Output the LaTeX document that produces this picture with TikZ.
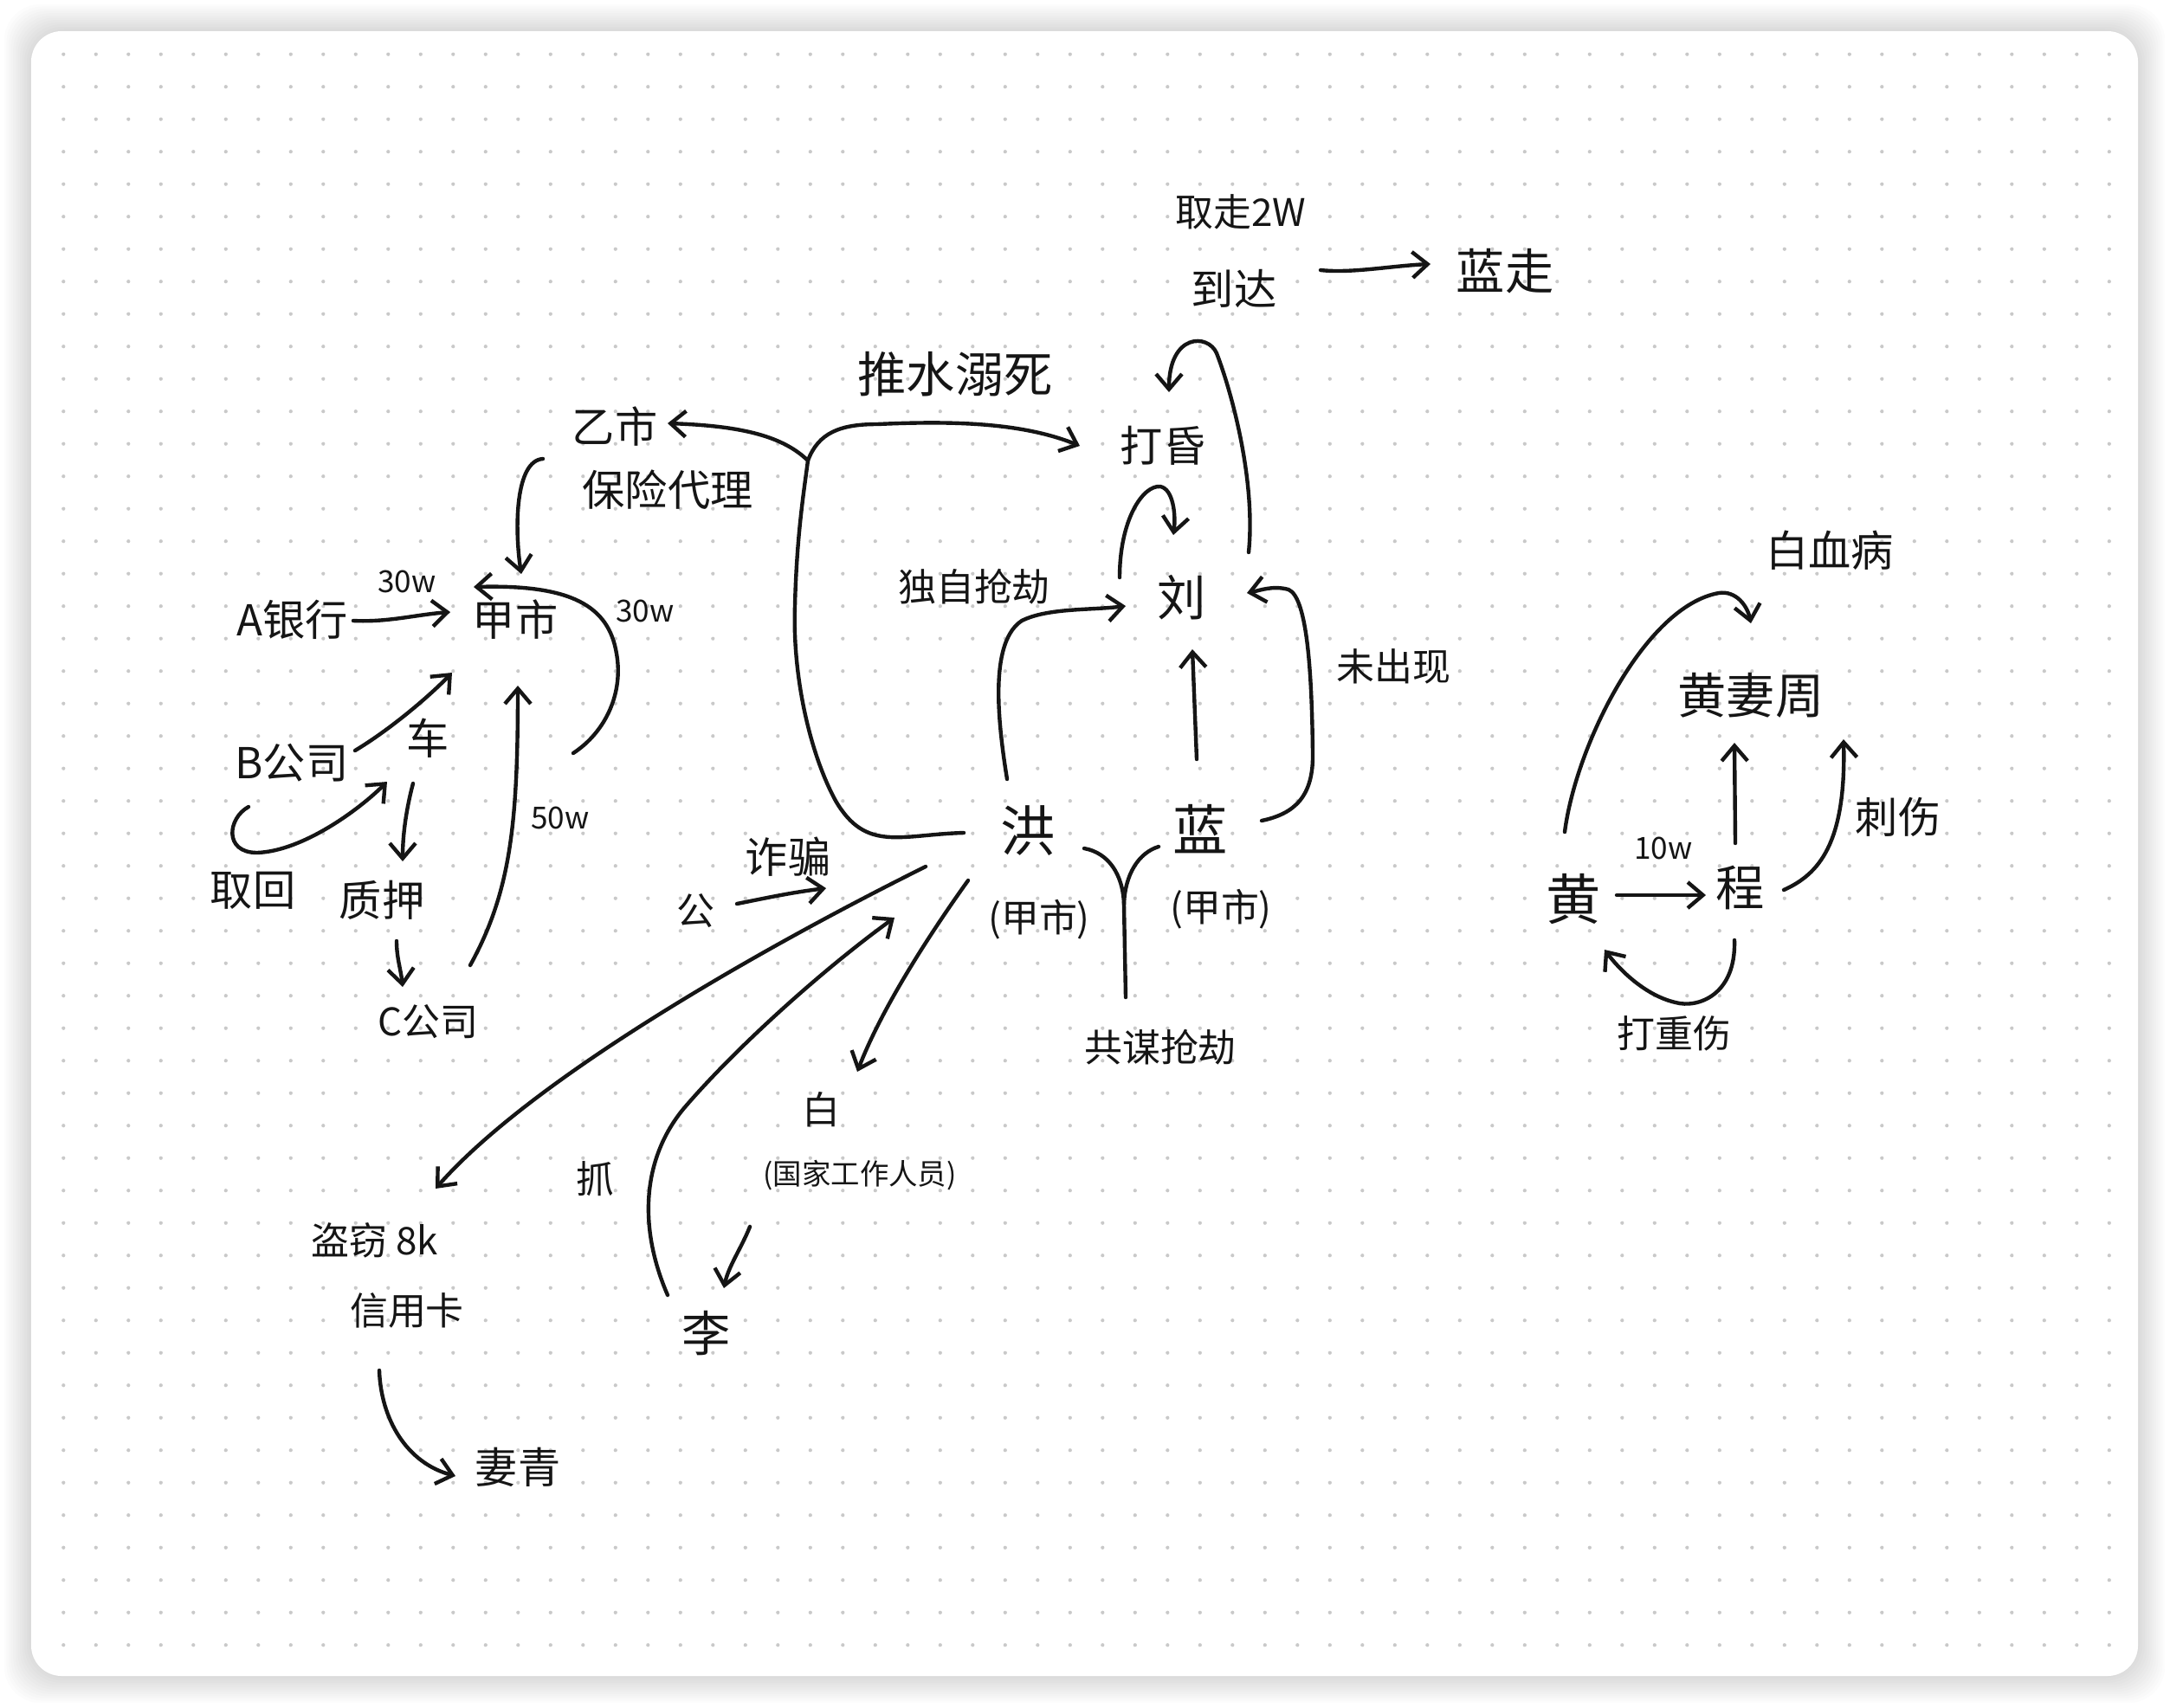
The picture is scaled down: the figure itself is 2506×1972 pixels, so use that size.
\documentclass[tikz,border=0pt]{standalone}
\usepackage{fontspec}
\newfontfamily\cjk{Noto Sans CJK SC}
\usepackage{tikz}
\usetikzlibrary{arrows.meta,calc}
\definecolor{InkBlack}{HTML}{151515}
\definecolor{DotGray}{HTML}{C9C9C9}
\tikzset{
  word/.style={font=\cjk\fontsize{14}{16}\selectfont,inner sep=0pt,text=InkBlack},
  wordXS/.style={word,font=\cjk\fontsize{9.5}{11}\selectfont},
  wordS/.style={word,font=\cjk\fontsize{10}{12}\selectfont},
  wordM/.style={word,font=\cjk\fontsize{12.5}{15}\selectfont},
  wordL/.style={word,font=\cjk\fontsize{16}{19}\selectfont},
  wordXL/.style={word,font=\cjk\fontsize{18}{21}\selectfont},
  inkline/.style={line width=1.25pt,draw=InkBlack,line cap=round,line join=round},
  inkarrow/.style={inkline,-{Straight Barb[length=5pt,width=8.5pt]}},
  griddot/.style={fill=DotGray}
}

\begin{document}
\begin{tikzpicture}[x=0.01cm,y=-0.01cm]
\fill[white] (0,0) rectangle (2506,1972);
\useasboundingbox (0,0) rectangle (2506,1972);
\foreach \k in {1,...,12}
  \fill[black,opacity=0.011,rounded corners=12pt] (36-\k*2.6,36-\k*2.6) rectangle (2469+\k*2.6,1936+\k*2.6);
\fill[white,rounded corners=10pt] (36,36) rectangle (2469,1936);
\foreach \i in {0,...,63}
  \foreach \j in {0,...,49}
    \fill[griddot] (73.3+37.5*\i,62.7+37.5*\j) circle[radius=0.6pt];

\node[wordM] (takeaway) at (1433,245) {取走2W};
\node[word] (daoda) at (1425,333) {到达};
\node[wordL] (lanzou) at (1738,313) {蓝走};
\node[wordL] (tuishui) at (1103,432) {推水溺死};
\node[word] (yishi) at (710,493) {乙市};
\node[word] (baoxian) at (771,566) {保险代理};
\node[word] (dahun) at (1343,515) {打昏};
\node[wordL] (liu) at (1365,690) {刘};
\node[wordM] (duzi) at (1125,678) {独自抢劫};
\node[wordM] (weichu) at (1609,770) {未出现};
\node[word] (abank) at (338,716) {A银行};
\node[wordS] (w30a) at (470,672) {30w};
\node[word] (jia) at (595,716) {甲市};
\node[wordS] (w30b) at (745,706) {30w};
\node[word] (bcomp) at (337,881) {B公司};
\node[word] (che) at (494,853) {车};
\node[word] (quhui) at (292,1029) {取回};
\node[word] (zhiya) at (441,1040) {质押};
\node[wordM] (ccomp) at (494,1180) {C公司};
\node[wordS] (w50) at (647,945) {50w};
\node[wordM] (gong) at (803,1052) {公};
\node[word] (zhapian) at (910,990) {诈骗};
\node[wordXL] (hong) at (1187,960) {洪};
\node[wordM] (hongjia) at (1200,1062) {(甲市)};
\node[wordXL] (lan) at (1386,958) {蓝};
\node[wordM] (lanjia) at (1410,1050) {(甲市)};
\node[wordM] (gongmou) at (1340,1210) {共谋抢劫};
\node[wordM] (bai) at (948,1282) {白};
\node[wordXS] (guojia) at (993,1358) {(国家工作人员)};
\node[wordM] (zhua) at (687,1362) {抓};
\node[wordM] (daoqie) at (433,1433) {盗窃 8k};
\node[wordM] (xinyong) at (470,1514) {信用卡};
\node[wordL] (li) at (816,1540) {李};
\node[word] (qiqing) at (598,1695) {妻青};
\node[word] (baixue) at (2113,636) {白血病};
\node[wordL] (huangqi) at (2022,803) {黄妻周};
\node[word] (cishang) at (2192,944) {刺伤};
\node[wordS] (w10) at (1921,980) {10w};
\node[wordXL] (huang) at (1817,1039) {黄};
\node[wordL] (cheng) at (2010,1025) {程};
\node[wordM] (dazhong) at (1933,1194) {打重伤};

\draw[inkarrow] ($(daoda)+(100,-21)$) .. controls +(35,4) and +(-45,2) .. ($(lanzou)+(-86,-8)$);

\coordinate (fork) at (933,532);
\draw[inkline] ($(hong)+(-74,2)$) .. controls (1040,964) and (1000,985) .. (965,925) .. controls (935,870) and (915,780) .. (918,700) .. controls (920,620) and (928,570) .. (fork);
\draw[inkarrow] (fork) .. controls (905,505) and (860,492) .. ($(yishi)+(61,-4)$);
\draw[inkarrow] (fork) .. controls (945,500) and (970,490) .. (1013,490) .. controls (1100,486) and (1180,488) .. ($(dahun)+(-96,0)$);

\draw[inkarrow] ($(abank)+(70,1)$) .. controls +(40,2) and +(-40,3) .. ($(jia)+(-75,-9)$);
\draw[inkarrow] ($(baoxian)+(-144,-36)$) .. controls (595,532) and (594,610) .. ($(jia)+(7,-53)$);
\draw[inkarrow] ($(jia)+(67,154)$) .. controls (700,845) and (720,800) .. (712,755) .. controls (703,700) and (660,675) .. ($(jia)+(-48,-38)$);
\draw[inkarrow] ($(bcomp)+(73,-14)$) .. controls (450,843) and (495,805) .. ($(jia)+(-73,61)$);
\draw[inkarrow] ($(bcomp)+(-50,51)$) .. controls (263,945) and (258,985) .. (297,985) .. controls (350,983) and (415,935) .. ($(che)+(-47,50)$);
\draw[inkarrow] ($(che)+(-17,52)$) .. controls +(-8,30) and +(0,-30) .. ($(zhiya)+(24,-45)$);
\draw[inkarrow] ($(zhiya)+(17,47)$) .. controls +(0,20) and +(-2,-20) .. ($(ccomp)+(-29,-40)$);
\draw[inkarrow] ($(ccomp)+(49,-65)$) .. controls (590,1030) and (598,950) .. ($(jia)+(3,76)$);

\draw[inkarrow] ($(gong)+(48,-8)$) .. controls +(40,-8) and +(-40,5) .. ($(hong)+(-233,66)$);
\draw[inkarrow] ($(hong)+(-118,41)$) .. controls (900,1085) and (620,1240) .. ($(daoqie)+(70,-60)$);
\draw[inkarrow] ($(li)+(-45,-44)$) .. controls (738,1420) and (740,1340) .. (790,1280) .. controls (850,1210) and (950,1120) .. ($(hong)+(-154,100)$);
\draw[inkarrow] ($(hong)+(-69,57)$) .. controls (1080,1070) and (1020,1160) .. ($(bai)+(42,-44)$);
\draw[inkarrow] ($(guojia)+(-127,59)$) .. controls +(-10,25) and +(5,-25) .. ($(li)+(20,-52)$);
\draw[inkarrow] ($(xinyong)+(-32,69)$) .. controls (440,1640) and (470,1690) .. ($(qiqing)+(-72,10)$);

\coordinate (meet) at (1298,1045);
\draw[inkline] ($(hong)+(65,20)$) .. controls (1280,985) and (1297,1010) .. (meet);
\draw[inkline] ($(lan)+(-48,20)$) .. controls (1315,985) and (1299,1010) .. (meet);
\draw[inkline] (meet) -- ($(gongmou)+(-40,-58)$);

\draw[inkarrow] ($(hong)+(-24,-60)$) .. controls (1150,820) and (1145,740) .. (1180,717) .. controls (1210,702) and (1260,705) .. ($(liu)+(-65,10)$);
\draw[inkarrow] ($(lan)+(-4,-81)$) -- ($(liu)+(12,60)$);
\draw[inkarrow] ($(liu)+(-72,-23)$) .. controls (1293,600) and (1320,560) .. (1340,562) .. controls (1355,565) and (1358,595) .. ($(liu)+(-10,-72)$);
\draw[inkarrow] ($(liu)+(77,-52)$) .. controls (1450,560) and (1425,460) .. (1405,408) .. controls (1395,385) and (1350,385) .. ($(dahun)+(7,-62)$);
\draw[inkarrow] ($(lan)+(71,-10)$) .. controls (1495,940) and (1517,920) .. (1516,870) .. controls (1515,780) and (1510,690) .. (1488,681) .. controls (1470,676) and (1455,682) .. ($(liu)+(75,-5)$);

\draw[inkarrow] ($(huang)+(-10,-78)$) .. controls (1820,860) and (1900,700) .. (1985,685) .. controls (2005,682) and (2018,700) .. ($(huangqi)+(0,-83)$);
\draw[inkarrow] ($(huang)+(50,-5)$) -- ($(cheng)+(-40,9)$);
\draw[inkarrow] ($(cheng)+(-6,-51)$) -- ($(huangqi)+(-19,55)$);
\draw[inkarrow] ($(cheng)+(50,3)$) .. controls (2100,1010) and (2132,975) .. ($(huangqi)+(107,51)$);
\draw[inkarrow] ($(cheng)+(-7,61)$) .. controls (2005,1150) and (1960,1165) .. (1935,1158) .. controls (1900,1150) and (1870,1120) .. ($(huang)+(36,58)$);
\end{tikzpicture}
\end{document}
